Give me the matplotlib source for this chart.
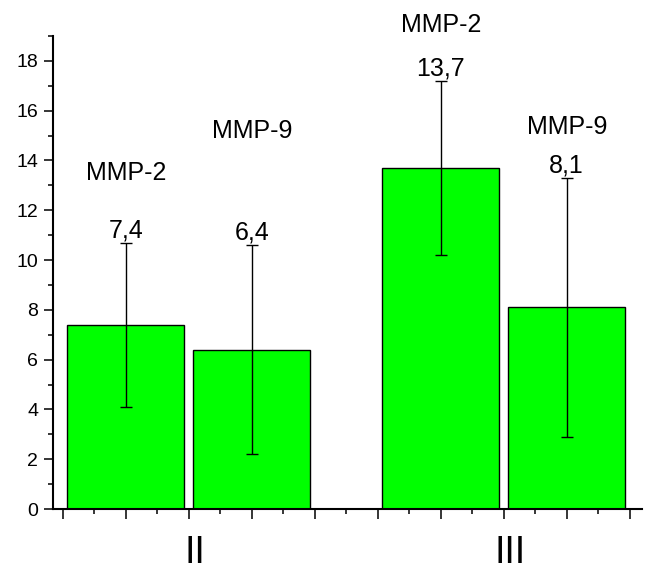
import matplotlib
matplotlib.use("Agg")
import matplotlib.pyplot as plt
import matplotlib.transforms as mtransforms
from matplotlib.ticker import MultipleLocator

# data
groups = ["II", "III"]
markers = ["MMP-2", "MMP-9", "MMP-2", "MMP-9"]
bar_x = [1, 3, 6, 8]
values = [7.4, 6.4, 13.7, 8.1]
errors = [3.3, 4.2, 3.5, 5.2]
value_labels = ["7,4", "6,4", "13,7", "8,1"]
marker_label_y = [13.2, 14.9, 19.15, 15.05]

plt.rcParams["font.family"] = ["Liberation Sans", "DejaVu Sans"]

fig = plt.figure(figsize=(6.46, 5.72), dpi=100)
ax = fig.add_axes([0.0816, 0.1101, 0.9117, 0.827])

ax.bar(bar_x, values, width=1.865, color="#00ff00", edgecolor="black", linewidth=1.0, zorder=2)
ax.errorbar(bar_x, values, yerr=errors, fmt="none", ecolor="black", elinewidth=1.0,
            capsize=4, capthick=1.0, zorder=3)

for x, v, e, lab in zip(bar_x, values, errors, value_labels):
    ax.annotate(lab, xy=(x, v + e), xytext=(0, 4), textcoords="offset points",
                ha="center", va="baseline", fontsize=18, annotation_clip=False)
for x, y, lab in zip(bar_x, marker_label_y, markers):
    ax.text(x, y, lab, ha="center", va="baseline", fontsize=18, clip_on=False)

# group labels under the axis
trans = mtransforms.blended_transform_factory(ax.transData, fig.transFigure)
for i, g in enumerate(groups):
    gx = sum(bar_x[2 * i:2 * i + 2]) / 2 + 0.1
    ax.text(gx, 0.001, g, transform=trans, ha="center", va="bottom", fontsize=27)

ax.set_xlim(-0.159, 9.19)
ax.set_ylim(0, 19)
ax.xaxis.set_major_locator(MultipleLocator(1))
ax.xaxis.set_minor_locator(MultipleLocator(0.5))
ax.yaxis.set_major_locator(MultipleLocator(2))
ax.yaxis.set_minor_locator(MultipleLocator(1))
ax.set_xticklabels([])
ax.tick_params(axis="x", which="major", direction="out", length=7, width=1.1)
ax.tick_params(axis="x", which="minor", direction="out", length=3.5, width=1.1)
ax.tick_params(axis="y", which="major", direction="out", length=6.5, width=1.1, labelsize=14, pad=4)
ax.tick_params(axis="y", which="minor", direction="out", length=3.5, width=1.1)
for s in ["top", "right"]:
    ax.spines[s].set_visible(False)
for s in ["left", "bottom"]:
    ax.spines[s].set_linewidth(1.5)

fig.savefig("out.png", dpi=100)
